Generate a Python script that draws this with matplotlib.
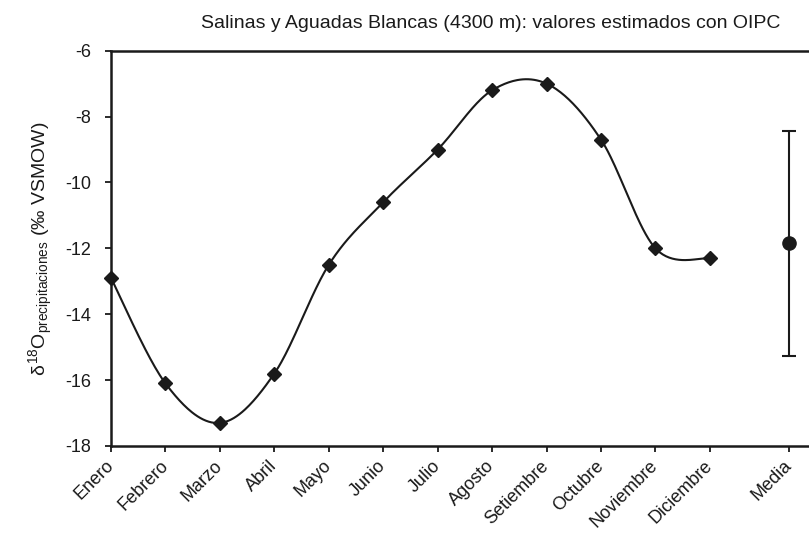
import numpy as np
import matplotlib
matplotlib.use("Agg")
import matplotlib.pyplot as plt

plt.rcParams['font.family'] = ['Liberation Sans', 'DejaVu Sans']
plt.rcParams['mathtext.fontset'] = 'custom'
plt.rcParams['mathtext.rm'] = 'Liberation Sans'
plt.rcParams['mathtext.it'] = 'Liberation Sans'

months = ['Enero', 'Febrero', 'Marzo', 'Abril', 'Mayo', 'Junio', 'Julio',
          'Agosto', 'Setiembre', 'Octubre', 'Noviembre', 'Diciembre']
d18O = [-12.9, -16.1, -17.3, -15.8, -12.5, -10.6, -9.0, -7.2, -7.0, -8.7, -12.0, -12.3]
media_label = 'Media'
media_value = -11.85
media_err = 3.42


def smooth_curve(x, y, n=40):
	# excel-like smoothed line (catmull-rom through the points)
	x = np.asarray(x, float)
	y = np.asarray(y, float)
	px = np.concatenate([[x[0]], x, [x[-1]]])
	py = np.concatenate([[y[0]], y, [y[-1]]])
	xs, ys = [], []
	t = np.linspace(0, 1, n)
	for i in range(1, len(px) - 2):
		p0, p1, p2, p3 = px[i - 1], px[i], px[i + 1], px[i + 2]
		q0, q1, q2, q3 = py[i - 1], py[i], py[i + 1], py[i + 2]
		c1x, c1y = p1 + (p2 - p0) / 6, q1 + (q2 - q0) / 6
		c2x, c2y = p2 - (p3 - p1) / 6, q2 - (q3 - q1) / 6
		bx = (1 - t) ** 3 * p1 + 3 * (1 - t) ** 2 * t * c1x + 3 * (1 - t) * t ** 2 * c2x + t ** 3 * p2
		by = (1 - t) ** 3 * q1 + 3 * (1 - t) ** 2 * t * c1y + 3 * (1 - t) * t ** 2 * c2y + t ** 3 * q2
		xs.extend(bx)
		ys.extend(by)
	return xs, ys


fig = plt.figure(figsize=(8.09, 5.35), dpi=100)
ax = fig.add_axes([0.1372, 0.1664, 0.8628, 0.7388])

x = np.arange(len(months))
sx, sy = smooth_curve(x, d18O)
ax.plot(sx, sy, color='#1a1a1a', lw=1.5, zorder=2)
ax.plot(x, d18O, linestyle='none', marker='D', markersize=7.5, color='#1a1a1a', zorder=3, clip_on=False)

media_x = 12.45
ax.errorbar([media_x], [media_value], yerr=[media_err], fmt='o', color='#1a1a1a',
	markersize=9.5, capsize=5, elinewidth=1.5, capthick=1.5)

ax.set_xlim(0, 12.82)
ax.set_ylim(-18, -6)
ax.set_yticks(np.arange(-18, -5, 2))
ax.set_yticklabels([str(v) for v in range(-18, -5, 2)])
ax.set_xticks(list(x) + [media_x])
ax.set_xticklabels(months + [media_label], rotation=45, ha='right', va='center', rotation_mode='anchor')

ax.spines['right'].set_visible(False)
for s in ['left', 'bottom', 'top']:
	ax.spines[s].set_color('#1a1a1a')
	ax.spines[s].set_linewidth(1.8)
ax.tick_params(axis='both', direction='out', length=4.5, width=1.3, color='#1a1a1a', labelsize=13, labelcolor='#1a1a1a')
ax.tick_params(axis='x', pad=8)
ax.tick_params(axis='y', pad=10)

ax.set_ylabel(r'$\delta^{18}$O$_{\mathregular{precipitaciones}}$ (‰ VSMOW)', fontsize=14, color='#1a1a1a', labelpad=7)
fig.text(0.964, 0.957, 'Salinas y Aguadas Blancas (4300 m): valores estimados con OIPC',
	ha='right', va='center', fontsize=14, color='#1a1a1a')

plt.savefig('out.png', dpi=100)
